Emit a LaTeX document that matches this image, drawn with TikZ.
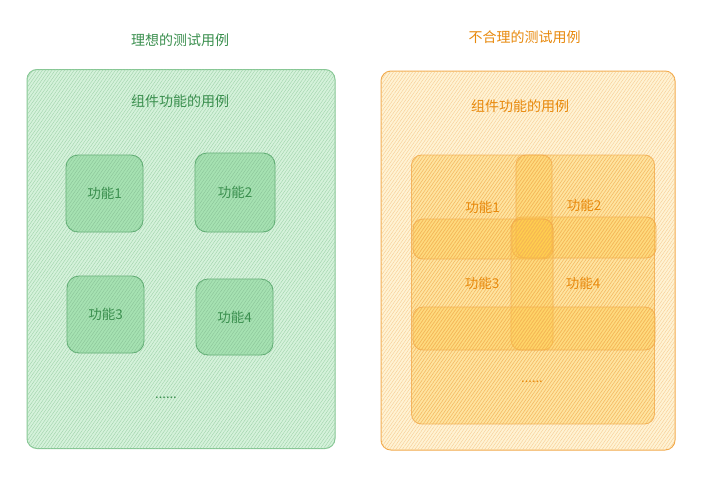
\documentclass[tikz,border=0pt]{standalone}
\usepackage{fontspec}
\setmainfont{Noto Sans CJK SC}
\usetikzlibrary{patterns.meta}
\definecolor{gtext}{HTML}{3A8F4E}
\definecolor{gstroke}{HTML}{86C794}
\definecolor{gfill}{HTML}{D5F2DB}
\definecolor{gin}{HTML}{A6E2B2}
\definecolor{ginstroke}{HTML}{62AE75}
\definecolor{otext}{HTML}{E8890C}
\definecolor{ostroke}{HTML}{F2AA4A}
\definecolor{ofill}{HTML}{FFF3D4}
\definecolor{oin}{HTML}{FFC940}
\begin{document}
\begin{tikzpicture}[x=1pt,y=-1pt,
  hach/.style={postaction={pattern={Lines[angle=55,distance=2.6pt,line width=0.4pt]},pattern color=#1}},
  gouter/.style={draw=gstroke,line width=1pt,fill=gfill,rounded corners=10pt,inner sep=0pt,hach=gstroke!80},
  gbox/.style={draw=ginstroke,line width=0.9pt,fill=gin,rounded corners=12pt,inner sep=0pt,hach=ginstroke!75,text=gtext,font=\fontsize{13.5}{15}\selectfont},
  gtitle/.style={text=gtext,font=\fontsize{14}{16}\selectfont},
  oouter/.style={draw=ostroke,line width=1pt,fill=ofill,rounded corners=10pt,inner sep=0pt,hach=ostroke!60},
  obar/.style={draw=ostroke,draw opacity=0.8,line width=0.9pt,fill=oin,fill opacity=0.35,rounded corners=10pt,inner sep=0pt,hach=ostroke!90},
  otitle/.style={text=otext,font=\fontsize{14}{16}\selectfont},
  olabel/.style={text=otext,font=\fontsize{13.5}{15}\selectfont},
  dots/.style={font=\fontsize{13}{14}\selectfont}
]
\useasboundingbox (0,0) rectangle (722,498);
\fill[white] (0,0) rectangle (722,498);
% left
\node[gouter,minimum width=308pt,minimum height=379pt] (lo) at (181,259) {};
\node[gtitle] (lt) at (180,40) {理想的测试用例};
\node[gtitle] (ls) at (180,101) {组件功能的用例};
\node[gbox,minimum width=77pt,minimum height=77pt] (f1) at (104.5,193.5) {功能1};
\node[gbox,minimum width=80pt,minimum height=79pt] (f2) at (235,192.5) {功能2};
\node[gbox,minimum width=77pt,minimum height=77pt] (f3) at (105.5,314.5) {功能3};
\node[gbox,minimum width=77pt,minimum height=76pt] (f4) at (234.5,317) {功能4};
\node[dots,text=gtext] (ld) at (166,398) {......};
% right
\node[oouter,minimum width=294pt,minimum height=379pt] (ro) at (528,260.5) {};
\node[otitle] (rt) at (524.5,37) {不合理的测试用例};
\node[otitle] (rs) at (520,106) {组件功能的用例};
\node[obar,minimum width=243pt,minimum height=269pt] (ri) at (533,289.5) {};
\node[obar,minimum width=140pt,minimum height=40pt] (hl) at (483,239) {};
\node[obar,minimum width=144pt,minimum height=41pt] (hr) at (584,237.5) {};
\node[obar,minimum width=36pt,minimum height=103pt] (vt) at (534,206.5) {};
\node[obar,minimum width=42pt,minimum height=131pt] (vb) at (532,284.5) {};
\node[obar,minimum width=242pt,minimum height=43pt] (hb) at (534,328.5) {};
\node[olabel] (r1) at (482.5,207) {功能1};
\node[olabel] (r2) at (584,205) {功能2};
\node[olabel] (r3) at (482,283) {功能3};
\node[olabel] (r4) at (583,283) {功能4};
\node[dots,text=otext] (rd) at (532,382) {......};
\end{tikzpicture}
\end{document}
